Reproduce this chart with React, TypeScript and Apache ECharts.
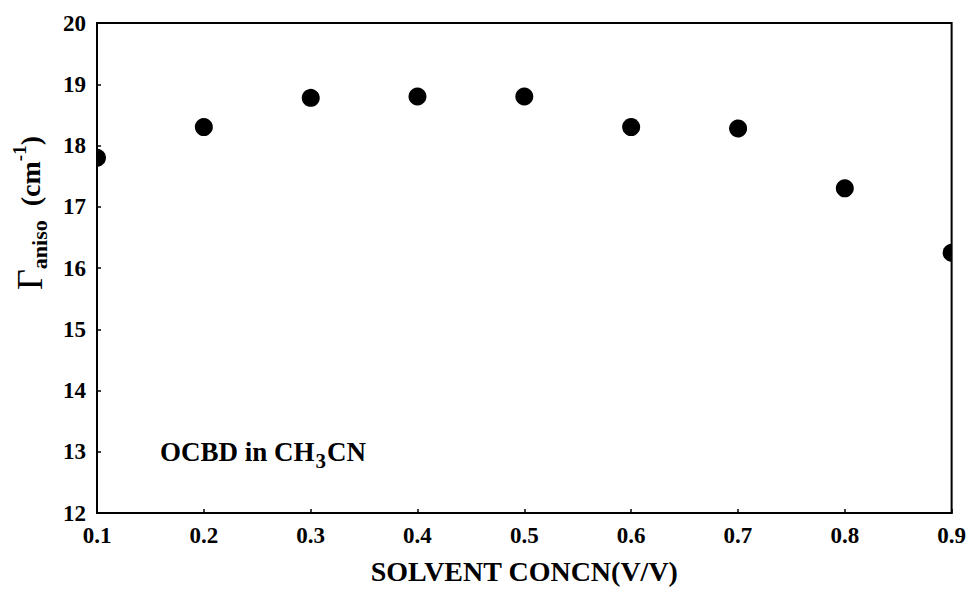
import React, { useEffect, useRef } from "react";
import * as echarts from "echarts";

const concentrations = [0.1, 0.2, 0.3, 0.4, 0.5, 0.6, 0.7, 0.8, 0.9];
const gammaAniso = [17.8, 18.3, 18.8, 18.8, 18.8, 18.3, 18.3, 17.3, 16.25];
const xTicks = ["0.1", "0.2", "0.3", "0.4", "0.5", "0.6", "0.7", "0.8", "0.9"];
const yTicks = [12, 13, 14, 15, 16, 17, 18, 19, 20];

const FONT = "'Liberation Serif', 'DejaVu Serif', serif";

export default function App() {
  const ref = useRef<HTMLDivElement>(null);
  useEffect(() => {
    if (!ref.current) return;
    const chart = echarts.init(ref.current, null, { renderer: "svg" });
    const data = concentrations.map((c, i) => [c, gammaAniso[i]]);
    chart.setOption({
      animation: false,
      backgroundColor: "#fff",
      grid: {
        left: 97,
        right: 17,
        top: 23,
        bottom: 87,
        show: true,
        borderColor: "#000",
        borderWidth: 2,
        backgroundColor: "transparent",
      },
      xAxis: {
        type: "value",
        min: 0.1,
        max: 0.9,
        interval: 0.1,
        z: 10,
        axisLine: { show: true, lineStyle: { color: "#000", width: 2 } },
        axisTick: { show: true, inside: true, length: 4, lineStyle: { color: "#000", width: 1.5 } },
        splitLine: { show: false },
        axisLabel: {
          margin: 11,
          color: "#000",
          fontFamily: FONT,
          fontWeight: "bold",
          fontSize: 23,
          formatter: (v: number) => {
            const idx = Math.round((v - 0.1) * 10);
            return xTicks[idx] ?? "";
          },
        },
        name: "SOLVENT CONCN(V/V)",
        nameLocation: "middle",
        nameGap: 44,
        nameTextStyle: { color: "#000", fontFamily: FONT, fontWeight: "bold", fontSize: 28 },
      },
      yAxis: {
        type: "value",
        min: 12,
        max: 20,
        interval: 1,
        z: 10,
        axisLine: { show: true, lineStyle: { color: "#000", width: 2 } },
        axisTick: { show: true, inside: true, length: 4, lineStyle: { color: "#000", width: 1.5 } },
        splitLine: { show: false },
        axisLabel: {
          margin: 11,
          color: "#000",
          fontFamily: FONT,
          fontWeight: "bold",
          fontSize: 23,
          formatter: (v: number) => (yTicks.includes(v) ? String(v) : ""),
        },
      },
      graphic: [
        {
          type: "text",
          x: 30,
          y: 213,
          rotation: Math.PI / 2,
          style: {
            text: "{g|Γ}{s|aniso}{n|  (cm}{sup|-1}{n|)}",
            align: "center",
            verticalAlign: "middle",
            fill: "#000",
            rich: {
              g: { fontFamily: FONT, fontSize: 36, fontWeight: "normal", fill: "#000" },
              s: { fontFamily: FONT, fontSize: 22, fontWeight: "bold", fill: "#000", verticalAlign: "bottom", padding: [18, 0, 0, 0] },
              n: { fontFamily: FONT, fontSize: 28, fontWeight: "bold", fill: "#000" },
              sup: { fontFamily: FONT, fontSize: 19, fontWeight: "bold", fill: "#000", verticalAlign: "top", padding: [0, 0, 14, 0] },
            },
          },
        },
        {
          type: "text",
          x: 160,
          y: 452,
          style: {
            text: "{n|OCBD in CH}{s|3}{n|CN}",
            verticalAlign: "middle",
            fill: "#000",
            rich: {
              n: { fontFamily: FONT, fontSize: 27, fontWeight: "bold", fill: "#000" },
              s: { fontFamily: FONT, fontSize: 21, fontWeight: "bold", fill: "#000", verticalAlign: "bottom", padding: [18, 1, 0, 1] },
            },
          },
        },
      ],
      series: [
        {
          type: "custom",
          clip: true,
          z: 2,
          data,
          renderItem: (_params: any, api: any) => {
            const p = api.coord([api.value(0), api.value(1)]);
            return {
              type: "circle",
              shape: { cx: p[0], cy: p[1], r: 9 },
              style: { fill: "#000" },
            };
          },
        },
      ],
    });
    return () => chart.dispose();
  }, []);
  return (
    <div
      ref={ref}
      style={{ position: "fixed", left: 0, top: 0, width: 969, height: 600, background: "#fff" }}
    />
  );
}
